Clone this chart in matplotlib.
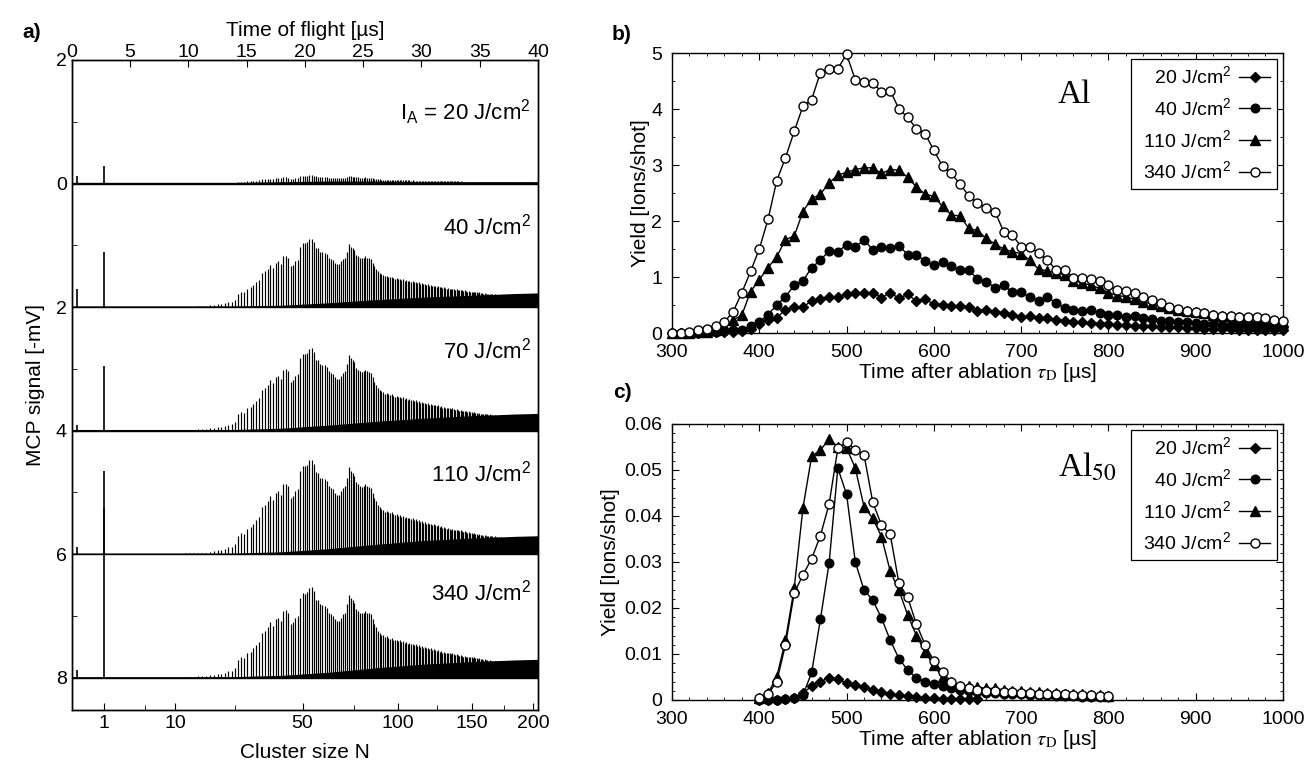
import numpy as np
import matplotlib.pyplot as plt
from matplotlib.ticker import FixedLocator, MultipleLocator, FuncFormatter

plt.rcParams['font.family'] = ['Liberation Sans', 'DejaVu Sans']
plt.rcParams['mathtext.fontset'] = 'custom'
plt.rcParams['mathtext.rm'] = 'Liberation Sans'
plt.rcParams['mathtext.it'] = 'Liberation Sans:italic'
plt.rcParams['axes.linewidth'] = 1.0

# ---------------- panel a: TOF mass spectra ----------------
fluences_a = ['20', '40', '70', '110', '340']
offsets_a = [0, 2, 4, 6, 8]
label_y_a = [-1.15, 0.7, 2.7, 4.7, 6.62]
spec_scale = [0.12, 1.0, 1.2, 1.38, 1.32]        # relative to the 40 J/cm2 spectrum
monomer_height = [0.29, 0.89, 1.05, 1.35, 2.75]   # Al+ peak (N = 1)
prepeak_height = [0.12, 0.30, 0.10, 0.12, 0.13]
tof_prepeak = 0.45
tof_per_sqrt_n = 2.8                              # TOF = 2.8 us * sqrt(N)

# peak heights of the 40 J/cm2 spectrum [mV], cluster sizes N = 10 ... 203
cluster_n = np.arange(10, 204)
peak_40 = [
    0.00, 0.00, 0.01, 0.01, 0.01, 0.02, 0.02, 0.02, 0.03, 0.04,
    0.05, 0.05, 0.06, 0.08, 0.09, 0.12, 0.22, 0.25, 0.24, 0.30,
    0.32, 0.36, 0.40, 0.44, 0.55, 0.58, 0.62, 0.68, 0.64, 0.72,
    0.74, 0.70, 0.82, 0.83, 0.80, 0.66, 0.68, 0.74, 0.76, 0.98,
    1.04, 1.03, 1.05, 1.10, 1.11, 1.06, 0.96, 0.95, 0.90, 0.89,
    0.88, 0.86, 0.80, 0.78, 0.76, 0.72, 0.70, 0.70, 0.74, 0.78,
    0.80, 0.90, 1.02, 0.98, 0.95, 0.92, 0.85, 0.82, 0.80, 0.79,
    0.80, 0.82, 0.80, 0.79, 0.78, 0.72, 0.66, 0.62, 0.58, 0.55,
    0.53, 0.52, 0.50, 0.51, 0.49, 0.48, 0.49, 0.47, 0.46, 0.47,
    0.45, 0.46, 0.44, 0.45, 0.43, 0.44, 0.42, 0.43, 0.41, 0.42,
    0.40, 0.41, 0.39, 0.40, 0.38, 0.39, 0.37, 0.38, 0.36, 0.37,
    0.35, 0.36, 0.34, 0.35, 0.34, 0.33, 0.34, 0.32, 0.33, 0.31,
    0.32, 0.31, 0.30, 0.31, 0.30, 0.29, 0.30, 0.29, 0.28, 0.29,
    0.28, 0.27, 0.28, 0.27, 0.26, 0.27, 0.26, 0.25, 0.26, 0.25,
    0.25, 0.24, 0.25, 0.24, 0.24, 0.23, 0.24, 0.23, 0.23, 0.22,
    0.23, 0.22, 0.22, 0.21, 0.22, 0.21, 0.21, 0.20, 0.21, 0.20,
    0.20, 0.20, 0.19, 0.20, 0.19, 0.19, 0.19, 0.18, 0.19, 0.18,
    0.18, 0.18, 0.17, 0.18, 0.17, 0.17, 0.17, 0.17, 0.16, 0.17,
    0.16, 0.16, 0.16, 0.16, 0.15, 0.16, 0.15, 0.15, 0.15, 0.15,
    0.15, 0.14, 0.15, 0.14,
]

# dark unresolved band above the baseline [mV]
band_tof = [0, 10, 14, 18, 22, 26, 30, 34, 38, 40]
band_height = [
    [0.02, 0.02, 0.02, 0.03, 0.04, 0.04, 0.03, 0.03, 0.03, 0.03],
    [0.02, 0.02, 0.02, 0.03, 0.07, 0.12, 0.16, 0.19, 0.22, 0.23],
    [0.02, 0.02, 0.02, 0.04, 0.09, 0.15, 0.20, 0.24, 0.27, 0.28],
    [0.02, 0.02, 0.02, 0.04, 0.09, 0.16, 0.22, 0.26, 0.29, 0.30],
    [0.02, 0.02, 0.02, 0.04, 0.09, 0.16, 0.22, 0.26, 0.29, 0.30],
]

n_ticks = [1, 10, 50, 100, 150, 200]
n_minor = [5, 25, 75, 125, 175]

# ---------------- panels b, c: yield vs delay ----------------
legend_labels = ['\u2007 20 J/cm$^2$', '\u2007 40 J/cm$^2$', '110 J/cm$^2$', '340 J/cm$^2$']

t_b = np.arange(300, 1001, 10)
yield_b_20 = [
    0.00, 0.00, 0.00, 0.00, 0.01, 0.01, 0.02, 0.02, 0.03, 0.08,
    0.17, 0.24, 0.27, 0.42, 0.46, 0.47, 0.57, 0.60, 0.64, 0.64,
    0.69, 0.72, 0.72, 0.72, 0.63, 0.72, 0.62, 0.69, 0.57, 0.60,
    0.52, 0.50, 0.48, 0.48, 0.46, 0.40, 0.42, 0.38, 0.36, 0.32,
    0.28, 0.30, 0.26, 0.27, 0.24, 0.22, 0.20, 0.20, 0.18, 0.17,
    0.16, 0.15, 0.14, 0.13, 0.12, 0.12, 0.11, 0.10, 0.10, 0.09,
    0.09, 0.08, 0.08, 0.07, 0.07, 0.06, 0.06, 0.06, 0.05, 0.05,
    0.05,
]
yield_b_40 = [
    0.00, 0.00, 0.00, 0.00, 0.01, 0.02, 0.03, 0.05, 0.06, 0.12,
    0.20, 0.33, 0.50, 0.65, 0.85, 0.93, 1.17, 1.30, 1.47, 1.45,
    1.58, 1.54, 1.66, 1.49, 1.53, 1.52, 1.56, 1.40, 1.39, 1.29,
    1.21, 1.27, 1.19, 1.12, 1.12, 0.97, 0.92, 0.81, 0.85, 0.73,
    0.73, 0.64, 0.58, 0.64, 0.54, 0.45, 0.42, 0.40, 0.42, 0.35,
    0.33, 0.32, 0.28, 0.30, 0.27, 0.25, 0.22, 0.22, 0.20, 0.19,
    0.18, 0.17, 0.17, 0.15, 0.14, 0.14, 0.13, 0.12, 0.12, 0.11,
    0.11,
]
yield_b_110 = [
    0.00, 0.00, 0.00, 0.01, 0.02, 0.05, 0.12, 0.23, 0.32, 0.74,
    0.95, 1.17, 1.36, 1.67, 1.73, 2.17, 2.40, 2.48, 2.68, 2.82,
    2.87, 2.92, 2.95, 2.95, 2.85, 2.92, 2.91, 2.78, 2.61, 2.48,
    2.44, 2.26, 2.11, 2.09, 1.87, 1.83, 1.69, 1.59, 1.50, 1.45,
    1.42, 1.30, 1.14, 1.11, 1.07, 1.04, 0.93, 0.90, 0.85, 0.80,
    0.72, 0.67, 0.65, 0.60, 0.56, 0.52, 0.48, 0.44, 0.42, 0.40,
    0.37, 0.35, 0.33, 0.31, 0.30, 0.28, 0.27, 0.25, 0.24, 0.22,
    0.20,
]
yield_b_340 = [
    0.00, 0.00, 0.02, 0.05, 0.08, 0.12, 0.20, 0.38, 0.72, 1.10,
    1.50, 2.03, 2.72, 3.13, 3.60, 4.05, 4.17, 4.65, 4.72, 4.72,
    4.98, 4.52, 4.49, 4.47, 4.31, 4.33, 4.00, 3.85, 3.65, 3.56,
    3.26, 2.98, 2.85, 2.66, 2.45, 2.32, 2.23, 2.17, 1.81, 1.75,
    1.54, 1.53, 1.43, 1.30, 1.13, 1.12, 0.99, 0.99, 0.96, 0.93,
    0.85, 0.76, 0.75, 0.72, 0.64, 0.59, 0.53, 0.47, 0.43, 0.40,
    0.38, 0.35, 0.33, 0.31, 0.30, 0.29, 0.29, 0.28, 0.26, 0.24,
    0.22,
]

t_c = np.arange(400, 801, 10)
t_c_20 = np.arange(400, 651, 10)
yield_c_20 = [
    0.0000, 0.0000, 0.0001, 0.0002, 0.0005, 0.0015, 0.0030, 0.0040, 0.0048, 0.0045,
    0.0037, 0.0032, 0.0028, 0.0022, 0.0018, 0.0013, 0.0010, 0.0008, 0.0006, 0.0005,
    0.0004, 0.0003, 0.0003, 0.0002, 0.0002, 0.0002,
]
yield_c_40 = [
    0.0000, 0.0000, 0.0000, 0.0003, 0.0005, 0.0010, 0.0060, 0.0175, 0.0298, 0.0504,
    0.0447, 0.0300, 0.0239, 0.0217, 0.0178, 0.0130, 0.0090, 0.0065, 0.0048, 0.0040,
    0.0035, 0.0030, 0.0025, 0.0022, 0.0020, 0.0018, 0.0016, 0.0015, 0.0014, 0.0013,
    0.0012, 0.0011, 0.0010, 0.0010, 0.0009, 0.0008, 0.0008, 0.0007, 0.0007, 0.0006,
    0.0006,
]
yield_c_110 = [
    0.0005, 0.0015, 0.0050, 0.0130, 0.0243, 0.0417, 0.0530, 0.0543, 0.0567, 0.0550,
    0.0548, 0.0504, 0.0420, 0.0395, 0.0355, 0.0280, 0.0238, 0.0185, 0.0140, 0.0105,
    0.0075, 0.0050, 0.0038, 0.0030, 0.0030, 0.0028, 0.0025, 0.0025, 0.0022, 0.0020,
    0.0020, 0.0018, 0.0018, 0.0015, 0.0015, 0.0013, 0.0012, 0.0012, 0.0010, 0.0010,
    0.0008,
]
yield_c_340 = [
    0.0005, 0.0012, 0.0040, 0.0120, 0.0232, 0.0272, 0.0307, 0.0357, 0.0426, 0.0547,
    0.0560, 0.0544, 0.0533, 0.0430, 0.0380, 0.0360, 0.0254, 0.0223, 0.0165, 0.0120,
    0.0085, 0.0060, 0.0040, 0.0030, 0.0025, 0.0022, 0.0020, 0.0019, 0.0018, 0.0017,
    0.0016, 0.0015, 0.0014, 0.0013, 0.0012, 0.0012, 0.0011, 0.0010, 0.0010, 0.0009,
    0.0008,
]

styles = [
    dict(marker='D', ms=5.5, mfc='k'),
    dict(marker='o', ms=6.2, mfc='k'),
    dict(marker='^', ms=7, mfc='k'),
    dict(marker='o', ms=6.5, mfc='white', mew=1.0),
]

fig = plt.figure(figsize=(13.11, 7.64), dpi=100)

# ---- a)
ax = fig.add_axes([0.0547, 0.0707, 0.3557, 0.8508])
tof_n = tof_per_sqrt_n * np.sqrt(cluster_n)
for i in range(len(fluences_a)):
    off = offsets_a[i]
    h = np.array(peak_40) * spec_scale[i]
    ax.fill_between(band_tof, off, off - np.array(band_height[i]), color='k', lw=0)
    ax.vlines(tof_n, off, off - h, color='k', lw=0.85)
    ax.vlines(tof_per_sqrt_n, off, off - monomer_height[i], color='k', lw=1.2)
    ax.vlines(tof_prepeak, off, off - prepeak_height[i], color='k', lw=1.2)
    ax.plot([0, 40], [off, off], color='k', lw=1.0)
    txt = f'{fluences_a[i]} J/cm$^2$'
    if i == 0:
        txt = r'I$_\mathrm{A}$ = ' + txt
    ax.text(39.4, label_y_a[i], txt, ha='right', va='center', fontsize=16)

ax.set_xlim(0, 40)
ax.set_ylim(8.52, -2)
ax.xaxis.set_major_locator(FixedLocator(tof_per_sqrt_n * np.sqrt(n_ticks)))
ax.xaxis.set_minor_locator(FixedLocator(tof_per_sqrt_n * np.sqrt(n_minor)))
ax.set_xticklabels([str(n) for n in n_ticks])
ax.yaxis.set_major_locator(MultipleLocator(2))
ax.yaxis.set_minor_locator(MultipleLocator(1))
ax.yaxis.set_major_formatter(FuncFormatter(lambda v, p: f'{abs(v):g}'))
ax.tick_params(which='both', direction='in', top=False, right=False, labelsize=14)
ax.tick_params(which='major', length=5)
ax.tick_params(which='minor', length=3.5)
ax.set_xlabel('Cluster size N', fontsize=15, labelpad=8)
ax.set_ylabel('MCP signal [-mV]', fontsize=15, labelpad=8)

ax_top = ax.twiny()
ax_top.set_xlim(0, 40)
ax_top.xaxis.set_major_locator(MultipleLocator(5))
ax_top.tick_params(direction='in', length=5, labelsize=14, pad=-1)
ax_top.set_xlabel('Time of flight [µs]', fontsize=15, labelpad=6)

fig.text(32 / 1311, 1 - 33 / 764, 'a)', fontsize=15, fontweight='bold', ha='center', va='center')


def yield_panel(rect, series, ylim, major, minor, fmt, name, name_y, ylabel_pad):
    axp = fig.add_axes(rect)
    for (t, y), lab, st in zip(series, legend_labels, styles):
        axp.plot(t, y, color='k', lw=1.0, label=lab, clip_on=False, zorder=3, **st)
    axp.set_xlim(300, 1000)
    axp.set_ylim(*ylim)
    axp.xaxis.set_major_locator(MultipleLocator(100))
    axp.xaxis.set_minor_locator(MultipleLocator(20))
    axp.yaxis.set_major_locator(MultipleLocator(major))
    axp.yaxis.set_minor_locator(MultipleLocator(minor))
    axp.yaxis.set_major_formatter(FuncFormatter(fmt))
    axp.tick_params(which='both', direction='in', top=True, right=True, labelsize=14)
    axp.tick_params(which='major', length=5)
    axp.tick_params(which='minor', length=2.5)
    axp.tick_params(axis='y', pad=7)
    axp.tick_params(axis='x', pad=8)
    axp.set_xlabel(r'Time after ablation $\tau_\mathrm{D}$ [µs]', fontsize=15,
                   math_fontfamily='stix', labelpad=0)
    axp.set_ylabel('Yield [Ions/shot]', fontsize=15, labelpad=ylabel_pad)
    leg = axp.legend(loc='upper right', markerfirst=False, fancybox=False,
                     edgecolor='k', framealpha=1, fontsize=14, handlelength=1.6,
                     labelspacing=0.5, borderaxespad=0.3, handletextpad=0.4,
                     borderpad=0.35)
    leg.get_frame().set_linewidth(0.9)
    for col in leg._legend_handle_box.get_children():
        col.align = 'right'
    axp.text(0.632, name_y, name, transform=axp.transAxes,
             family='Liberation Serif', fontsize=24, ha='left', va='baseline',
             math_fontfamily='stix')
    return axp


yield_panel([0.5126, 0.5641, 0.4660, 0.3665],
            [(t_b, yield_b_20), (t_b, yield_b_40), (t_b, yield_b_110), (t_b, yield_b_340)],
            (0, 5), 1, 0.5, lambda v, p: f'{v:g}', 'Al', 0.82, 1)
fig.text(622 / 1311, 1 - 35 / 764, 'b)', fontsize=15, fontweight='bold', ha='center', va='center')

yield_panel([0.5126, 0.0838, 0.4660, 0.3613],
            [(t_c_20, yield_c_20), (t_c, yield_c_40), (t_c, yield_c_110), (t_c, yield_c_340)],
            (0, 0.06), 0.01, 0.002, lambda v, p: '0' if abs(v) < 1e-9 else f'{v:.2f}',
            'Al$_{50}$', 0.808, 3)
fig.text(622 / 1311, 1 - 392 / 764, 'c)', fontsize=15, fontweight='bold', ha='center', va='center')

fig.savefig('out.png', dpi=100)
